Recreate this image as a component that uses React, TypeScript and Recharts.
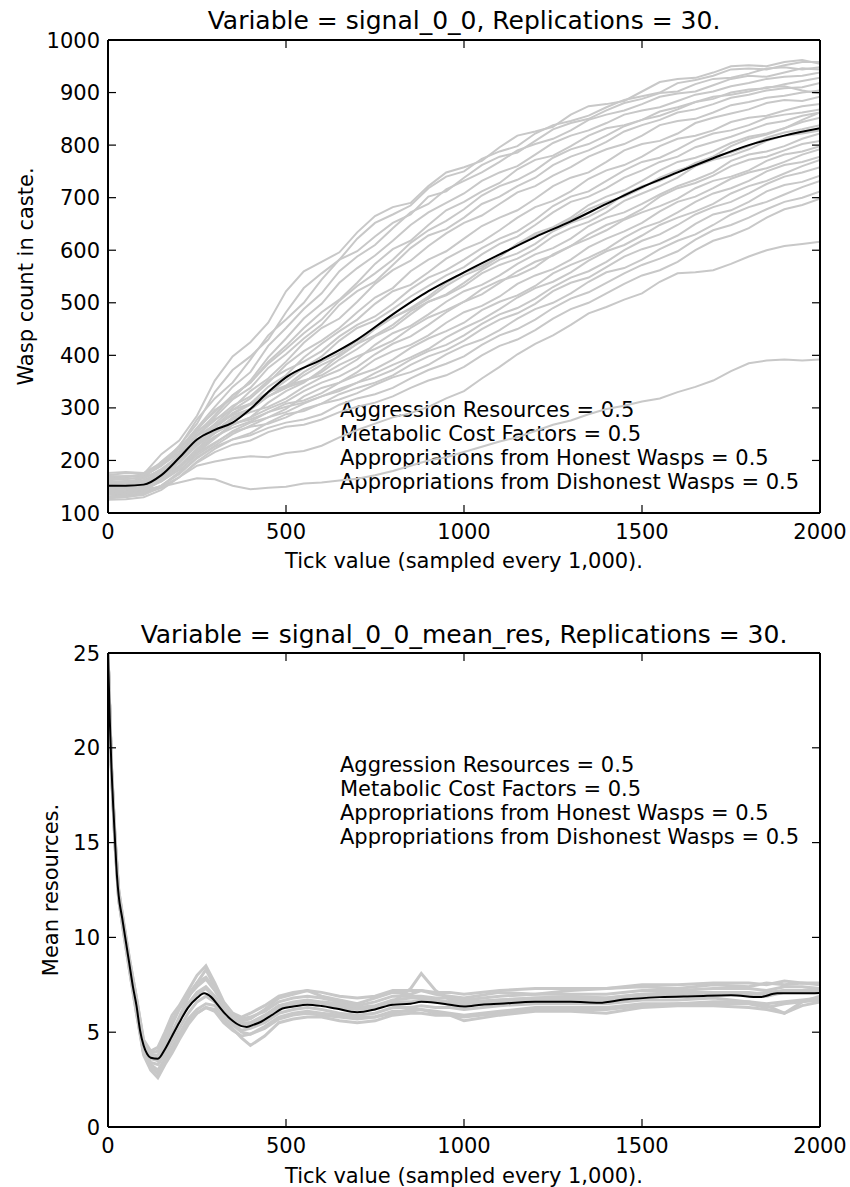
import React from 'react';
import { LineChart, Line, XAxis, YAxis } from 'recharts';

const FONT = '"DejaVu Sans", Verdana, sans-serif';
const GRAY = '#c8c8c8';

const topTitle = 'Variable = signal_0_0, Replications = 30.';
const bottomTitle = 'Variable = signal_0_0_mean_res, Replications = 30.';
const xLabel = 'Tick value (sampled every 1,000).';
const topYLabel = 'Wasp count in caste.';
const bottomYLabel = 'Mean resources.';
const notes = [
  'Aggression Resources = 0.5',
  'Metabolic Cost Factors = 0.5',
  'Appropriations from Honest Wasps = 0.5',
  'Appropriations from Dishonest Wasps = 0.5',
];

const xTicks = [0, 500, 1000, 1500, 2000];
const topYTicks = [100, 200, 300, 400, 500, 600, 700, 800, 900, 1000];
const bottomYTicks = [0, 5, 10, 15, 20, 25];

// ---- top panel: wasp count, 30 replications sampled every 50 ticks ----
const topRunX = [0, 50, 100, 150, 200, 250, 300, 350, 400, 450, 500, 550, 600, 650, 700, 750, 800, 850, 900, 950, 1000, 1050, 1100, 1150, 1200, 1250, 1300, 1350, 1400, 1450, 1500, 1550, 1600, 1650, 1700, 1750, 1800, 1850, 1900, 1950, 2000];
const topRuns: number[][] = [
  [170, 168, 174, 212, 238, 285, 352, 398, 425, 462, 522, 560, 578, 596, 634, 665, 682, 690, 722, 748, 758, 770, 796, 818, 826, 835, 858, 874, 878, 884, 902, 920, 926, 928, 938, 950, 952, 950, 958, 962, 955],
  [164, 170, 170, 190, 228, 270, 330, 372, 398, 430, 482, 528, 556, 582, 622, 652, 668, 685, 718, 740, 750, 774, 788, 798, 822, 838, 846, 856, 872, 886, 893, 900, 918, 924, 932, 944, 946, 944, 952, 958, 958],
  [160, 158, 166, 198, 226, 278, 318, 348, 392, 438, 468, 500, 544, 582, 598, 626, 652, 668, 702, 712, 738, 762, 778, 786, 808, 830, 842, 850, 866, 880, 888, 899, 902, 916, 926, 928, 936, 946, 948, 944, 948],
  [172, 176, 175, 192, 218, 262, 302, 340, 368, 418, 452, 488, 518, 560, 588, 610, 642, 672, 688, 716, 732, 748, 768, 790, 802, 812, 828, 848, 858, 866, 878, 892, 898, 902, 914, 926, 932, 930, 938, 946, 944],
  [158, 160, 162, 180, 212, 258, 296, 318, 352, 396, 432, 470, 498, 538, 566, 590, 618, 648, 672, 690, 708, 732, 748, 760, 782, 804, 818, 828, 842, 858, 866, 872, 884, 896, 902, 912, 918, 926, 930, 932, 938],
  [150, 152, 157, 182, 210, 252, 286, 324, 348, 388, 418, 452, 482, 506, 538, 574, 602, 618, 648, 676, 692, 712, 728, 754, 772, 780, 798, 818, 832, 838, 848, 864, 872, 882, 888, 900, 906, 908, 916, 922, 928],
  [166, 164, 168, 180, 204, 246, 282, 316, 338, 376, 402, 432, 458, 496, 522, 540, 572, 604, 628, 640, 662, 688, 702, 722, 738, 762, 778, 790, 806, 826, 838, 848, 862, 868, 878, 890, 896, 904, 908, 910, 918],
  [146, 148, 151, 170, 198, 238, 270, 300, 332, 356, 388, 424, 452, 470, 502, 536, 562, 580, 608, 632, 652, 666, 688, 710, 722, 742, 758, 778, 792, 802, 818, 838, 846, 850, 862, 876, 882, 890, 894, 900, 904],
  [155, 157, 160, 176, 206, 240, 264, 296, 318, 348, 382, 408, 428, 452, 482, 510, 528, 560, 582, 598, 622, 646, 662, 676, 698, 722, 738, 748, 768, 790, 802, 808, 822, 842, 852, 860, 868, 880, 886, 884, 892],
  [140, 142, 148, 168, 196, 232, 262, 290, 308, 340, 362, 396, 422, 446, 468, 498, 522, 534, 558, 584, 602, 616, 638, 662, 682, 694, 712, 736, 752, 762, 778, 798, 812, 818, 828, 844, 852, 856, 866, 874, 878],
  [162, 166, 165, 184, 208, 248, 276, 304, 322, 352, 372, 388, 408, 436, 458, 474, 498, 526, 548, 562, 582, 604, 622, 636, 658, 684, 702, 712, 732, 752, 768, 776, 792, 810, 822, 828, 838, 852, 858, 862, 868],
  [135, 136, 142, 162, 188, 222, 252, 278, 298, 328, 352, 376, 398, 428, 452, 466, 488, 512, 532, 552, 568, 592, 612, 626, 648, 672, 692, 702, 718, 738, 752, 768, 778, 796, 806, 816, 828, 840, 846, 856, 862],
  [150, 152, 156, 174, 200, 236, 262, 288, 306, 322, 342, 368, 388, 404, 428, 452, 472, 488, 508, 532, 552, 566, 588, 612, 632, 644, 662, 686, 702, 714, 732, 752, 768, 776, 788, 804, 816, 822, 832, 844, 852],
  [168, 170, 170, 190, 214, 246, 268, 286, 298, 322, 338, 350, 368, 392, 412, 436, 452, 478, 502, 516, 538, 562, 582, 594, 612, 636, 652, 664, 682, 706, 722, 732, 748, 766, 778, 786, 798, 814, 824, 830, 838],
  [128, 130, 136, 152, 178, 214, 242, 268, 282, 310, 332, 348, 372, 400, 422, 438, 458, 484, 502, 514, 532, 556, 572, 584, 602, 626, 642, 654, 672, 694, 708, 722, 738, 760, 772, 780, 792, 808, 818, 822, 828],
  [145, 146, 150, 168, 196, 228, 254, 278, 292, 302, 318, 340, 358, 372, 392, 420, 442, 456, 478, 502, 522, 534, 552, 574, 592, 604, 622, 646, 662, 672, 688, 706, 722, 734, 748, 770, 782, 788, 798, 812, 822],
  [138, 140, 144, 160, 186, 218, 244, 268, 282, 298, 312, 332, 348, 360, 378, 402, 422, 436, 458, 482, 502, 516, 538, 560, 578, 590, 608, 630, 648, 660, 678, 702, 718, 728, 742, 760, 772, 778, 790, 802, 808],
  [176, 178, 176, 196, 224, 256, 278, 296, 308, 330, 342, 352, 362, 382, 398, 412, 428, 452, 472, 486, 502, 526, 542, 552, 568, 592, 608, 622, 638, 658, 672, 684, 698, 718, 732, 740, 752, 770, 782, 788, 798],
  [132, 134, 138, 152, 176, 206, 228, 250, 266, 282, 298, 322, 338, 348, 368, 392, 408, 420, 438, 462, 482, 494, 512, 536, 552, 564, 582, 606, 622, 636, 652, 674, 692, 702, 718, 736, 748, 756, 768, 782, 792],
  [152, 150, 154, 168, 190, 222, 246, 262, 274, 292, 308, 314, 328, 348, 362, 374, 392, 414, 432, 446, 462, 486, 502, 514, 532, 556, 572, 586, 602, 624, 642, 654, 672, 692, 708, 718, 732, 750, 762, 768, 778],
  [142, 144, 147, 160, 182, 210, 232, 256, 272, 282, 292, 308, 322, 332, 348, 366, 382, 396, 412, 434, 452, 468, 488, 510, 528, 540, 558, 580, 598, 610, 628, 648, 662, 674, 688, 708, 722, 732, 746, 760, 772],
  [160, 161, 162, 176, 198, 228, 252, 270, 278, 292, 302, 310, 322, 336, 348, 358, 372, 392, 408, 420, 438, 460, 478, 490, 508, 530, 548, 560, 578, 600, 618, 630, 648, 668, 682, 692, 708, 726, 740, 748, 758],
  [125, 126, 130, 144, 168, 198, 222, 240, 252, 272, 288, 294, 308, 326, 338, 348, 362, 382, 398, 410, 428, 450, 468, 480, 498, 522, 538, 548, 568, 588, 602, 612, 628, 650, 668, 676, 692, 712, 724, 730, 742],
  [148, 147, 150, 164, 186, 214, 234, 254, 264, 270, 282, 298, 308, 316, 328, 344, 358, 368, 382, 402, 418, 430, 448, 470, 488, 500, 518, 540, 558, 566, 582, 602, 618, 630, 648, 668, 682, 692, 706, 720, 732],
  [136, 138, 140, 152, 174, 204, 226, 240, 248, 262, 272, 278, 288, 306, 318, 326, 338, 356, 372, 384, 398, 420, 438, 450, 468, 490, 508, 520, 538, 556, 572, 584, 598, 620, 638, 648, 662, 678, 692, 700, 712],
  [130, 132, 136, 148, 168, 196, 216, 230, 238, 254, 264, 268, 278, 292, 302, 310, 322, 338, 352, 362, 378, 400, 418, 430, 448, 470, 488, 500, 518, 536, 552, 562, 578, 600, 618, 628, 642, 662, 678, 686, 698],
  [155, 156, 158, 174, 196, 230, 256, 282, 296, 322, 338, 362, 382, 398, 422, 450, 472, 490, 512, 538, 558, 570, 588, 612, 628, 640, 658, 678, 692, 702, 718, 738, 752, 762, 778, 798, 812, 820, 832, 848, 862],
  [170, 170, 172, 194, 222, 262, 292, 324, 348, 384, 412, 442, 468, 504, 532, 556, 582, 614, 638, 656, 678, 704, 722, 734, 752, 776, 792, 802, 818, 836, 848, 856, 868, 882, 892, 896, 902, 910, 912, 904, 898],
  [130, 131, 134, 150, 168, 190, 198, 204, 208, 206, 214, 218, 228, 244, 258, 270, 282, 290, 302, 318, 332, 356, 378, 402, 422, 438, 458, 480, 492, 506, 518, 540, 556, 558, 562, 574, 588, 600, 608, 612, 616],
  [140, 141, 145, 150, 158, 166, 164, 152, 145, 148, 150, 156, 158, 162, 165, 172, 180, 190, 200, 206, 216, 226, 236, 244, 256, 268, 276, 288, 298, 304, 312, 318, 330, 340, 352, 370, 385, 390, 392, 390, 392],
];
const topMeanX = [0, 50, 100, 150, 200, 250, 300, 350, 400, 450, 500, 600, 700, 800, 900, 1000, 1100, 1200, 1300, 1400, 1500, 1600, 1700, 1800, 1900, 2000];
const topMean = [152, 152, 154, 172, 205, 240, 258, 272, 298, 330, 358, 392, 430, 478, 522, 558, 592, 625, 655, 688, 720, 748, 775, 800, 818, 832];

// ---- bottom panel: mean resources ----
const bottomRunX = [0, 10, 20, 30, 45, 60, 80, 100, 120, 140, 160, 180, 200, 225, 250, 275, 300, 325, 350, 375, 400, 440, 480, 520, 560, 600, 650, 700, 750, 800, 850, 880, 920, 960, 1000, 1100, 1200, 1300, 1400, 1500, 1600, 1700, 1800, 1850, 1900, 1950, 2000];
const bottomRuns: number[][] = [
  [25, 18.9, 15.2, 12.5, 10.7, 8.9, 6.8, 4.6, 4.0, 4.2, 5.0, 5.9, 6.4, 7.2, 8.0, 8.5, 7.6, 6.6, 6.0, 5.6, 5.7, 6.2, 6.8, 7.0, 7.2, 6.9, 6.7, 6.5, 6.8, 7.1, 7.0, 7.2, 7.0, 6.9, 6.8, 7.1, 7.0, 7.2, 7.3, 7.4, 7.3, 7.5, 7.4, 7.6, 7.5, 7.6, 7.5],
  [25, 18.6, 14.8, 12.0, 10.1, 8.3, 6.0, 3.8, 3.0, 2.6, 3.3, 3.9, 4.6, 5.4, 6.0, 6.3, 6.2, 5.7, 5.2, 4.7, 4.3, 4.8, 5.5, 5.7, 5.8, 5.8, 5.6, 5.5, 5.6, 5.9, 6.0, 6.0, 5.9, 5.9, 5.6, 5.9, 6.1, 6.1, 6.0, 6.3, 6.4, 6.4, 6.3, 6.2, 6.0, 6.4, 6.6],
  [25, 18.8, 15.0, 12.3, 10.4, 8.6, 6.5, 4.3, 3.7, 3.5, 4.0, 4.9, 5.6, 6.5, 7.1, 7.4, 6.9, 6.2, 5.7, 5.4, 5.4, 5.8, 6.4, 6.5, 6.6, 6.5, 6.4, 6.3, 6.3, 6.6, 7.3, 8.1, 7.2, 6.7, 6.6, 6.7, 6.8, 6.9, 6.8, 7.0, 7.1, 7.1, 7.0, 7.1, 7.2, 7.2, 7.3],
  [25, 18.7, 14.9, 12.1, 10.3, 8.5, 6.2, 4.0, 3.4, 3.3, 3.8, 4.5, 5.2, 6.0, 6.6, 6.9, 6.6, 6.0, 5.5, 5.1, 5.2, 5.5, 6.0, 6.2, 6.3, 6.2, 6.0, 5.9, 6.0, 6.3, 6.3, 6.4, 6.3, 6.3, 6.2, 6.4, 6.5, 6.5, 6.5, 6.7, 6.7, 6.8, 6.6, 6.4, 6.0, 6.6, 6.9],
  [25, 18.9, 15.1, 12.4, 10.6, 8.8, 6.7, 4.4, 3.8, 3.8, 4.4, 5.4, 6.2, 6.9, 7.4, 7.8, 7.2, 6.4, 5.9, 5.7, 5.8, 6.1, 6.6, 6.8, 6.9, 6.8, 6.6, 6.4, 6.6, 6.9, 6.9, 6.9, 6.8, 6.8, 6.7, 6.9, 7.0, 7.0, 7.0, 7.2, 7.2, 7.3, 7.3, 7.2, 7.4, 7.4, 7.3],
  [25, 18.7, 14.8, 12.0, 10.2, 8.4, 6.1, 3.9, 3.3, 3.0, 3.6, 4.2, 4.9, 5.7, 6.2, 6.5, 6.4, 5.9, 5.4, 5.0, 4.9, 5.2, 5.7, 5.9, 6.0, 5.9, 5.8, 5.7, 5.8, 6.1, 6.1, 6.2, 6.1, 6.0, 5.9, 6.1, 6.3, 6.3, 6.3, 6.5, 6.5, 6.6, 6.6, 6.5, 6.6, 6.7, 6.8],
  [25, 18.8, 15.1, 12.4, 10.5, 8.7, 6.5, 4.2, 3.6, 3.7, 4.4, 5.0, 5.8, 6.8, 7.6, 8.3, 7.4, 6.5, 5.9, 5.5, 5.5, 5.9, 6.4, 6.6, 6.7, 6.6, 6.5, 6.3, 6.4, 6.7, 6.8, 6.8, 6.7, 6.6, 6.5, 6.7, 6.8, 6.8, 6.8, 7.0, 7.0, 7.1, 7.1, 7.0, 7.2, 7.2, 7.2],
  [25, 18.6, 14.8, 12.0, 10.1, 8.3, 6.0, 3.9, 3.2, 2.8, 3.4, 4.0, 4.8, 5.6, 6.0, 6.3, 6.1, 5.5, 5.1, 4.8, 4.9, 5.3, 5.8, 6.0, 6.1, 6.0, 5.9, 5.8, 5.8, 6.0, 6.2, 6.2, 6.0, 5.9, 5.8, 6.0, 6.2, 6.2, 6.2, 6.4, 6.5, 6.5, 6.5, 6.3, 6.5, 6.6, 6.7],
  [25, 18.8, 15.0, 12.2, 10.4, 8.6, 6.4, 4.2, 3.6, 3.5, 4.1, 4.8, 5.6, 6.4, 7.0, 7.3, 6.8, 6.1, 5.7, 5.4, 5.5, 5.8, 6.3, 6.5, 6.6, 6.5, 6.3, 6.2, 6.3, 6.6, 6.6, 6.7, 6.6, 6.5, 6.4, 6.6, 6.7, 6.7, 6.7, 6.9, 6.9, 7.0, 7.0, 6.9, 7.1, 7.1, 7.1],
  [25, 18.9, 15.2, 12.5, 10.6, 8.9, 6.8, 4.5, 3.9, 4.0, 4.7, 5.6, 6.3, 7.0, 7.6, 7.9, 7.3, 6.5, 6.0, 5.8, 6.0, 6.4, 6.9, 7.1, 7.2, 7.1, 6.9, 6.8, 6.9, 7.2, 7.2, 7.2, 7.1, 7.1, 7.0, 7.2, 7.3, 7.3, 7.3, 7.5, 7.5, 7.6, 7.6, 7.5, 7.7, 7.6, 7.6],
];
const bottomMeanX = [0, 5, 10, 15, 20, 25, 30, 40, 50, 60, 70, 80, 90, 100, 110, 120, 140, 160, 180, 200, 225, 250, 270, 290, 310, 330, 350, 375, 390, 410, 430, 460, 490, 520, 560, 600, 640, 700, 750, 800, 850, 880, 920, 960, 1000, 1050, 1100, 1200, 1300, 1380, 1450, 1550, 1650, 1750, 1830, 1880, 1950, 2000];
const bottomMean = [25, 21.5, 18.8, 16.8, 15.0, 13.3, 12.2, 11.0, 9.8, 8.6, 7.4, 6.4, 5.1, 4.3, 3.85, 3.65, 3.6, 4.1, 4.8, 5.5, 6.3, 6.8, 7.05, 6.85, 6.4, 5.95, 5.6, 5.32, 5.28, 5.4, 5.55, 5.9, 6.25, 6.35, 6.45, 6.38, 6.25, 6.05, 6.2, 6.45, 6.5, 6.6, 6.55, 6.45, 6.35, 6.45, 6.5, 6.6, 6.6, 6.55, 6.72, 6.85, 6.9, 6.95, 6.85, 7.05, 7.05, 7.07];

const toPts = (xs: number[], ys: number[]) => xs.map((x, i) => ({ x, y: ys[i] }));

const axisStyle = { stroke: '#000', strokeWidth: 2 };
const TICK_LEN = 8;

const LeftTick = (p: any) => (
  <g>
    <line x1={p.x + 8} x2={p.x + 8 + TICK_LEN} y1={p.y} y2={p.y} stroke="#000" strokeWidth={1.2} />
    <text x={p.x} y={p.y} dy="0.36em" textAnchor="end" fontFamily={FONT} fontSize={21} fill="#000">
      {p.payload.value}
    </text>
  </g>
);
const RightTick = (p: any) => (
  <line x1={p.x} x2={p.x - TICK_LEN} y1={p.y} y2={p.y} stroke="#000" strokeWidth={1.2} />
);
const BottomTick = (p: any) => (
  <g>
    <line x1={p.x} x2={p.x} y1={p.y - 10} y2={p.y - 10 - TICK_LEN} stroke="#000" strokeWidth={1.2} />
    <text x={p.x} y={p.y + 15.5} textAnchor="middle" fontFamily={FONT} fontSize={21} fill="#000">
      {p.payload.value}
    </text>
  </g>
);
const TopTick = (p: any) => (
  <line x1={p.x} x2={p.x} y1={p.y} y2={p.y + TICK_LEN} stroke="#000" strokeWidth={1.2} />
);

type PanelProps = {
  height: number;
  margin: { top: number; right: number; bottom: number; left: number };
  yDomain: [number, number];
  yTicks: number[];
  runX: number[];
  runs: number[][];
  meanX: number[];
  mean: number[];
  runWidth: number;
  title: string;
  titleY: number;
  yLabel: string;
  yLabelX: number;
  yLabelY: number;
  xLabelY: number;
  noteY: number;
};

function Panel(props: PanelProps) {
  const { height, margin, yDomain, yTicks, runX, runs, meanX, mean, runWidth } = props;
  return (
    <LineChart width={850} height={height} margin={margin}>
      <XAxis
        xAxisId="b"
        type="number"
        dataKey="x"
        domain={[0, 2000]}
        ticks={xTicks}
        interval={0}
        allowDataOverflow
        orientation="bottom"
        height={30}
        tickSize={0}
        tickMargin={10}
        tickLine={false}
        tick={BottomTick}
        axisLine={axisStyle}
      />
      <XAxis
        xAxisId="t"
        type="number"
        dataKey="x"
        domain={[0, 2000]}
        ticks={xTicks}
        interval={0}
        allowDataOverflow
        orientation="top"
        height={1}
        tickSize={0}
        tickMargin={0}
        tickLine={false}
        tick={TopTick}
        axisLine={axisStyle}
      />
      <YAxis
        yAxisId="l"
        type="number"
        domain={yDomain}
        ticks={yTicks}
        interval={0}
        allowDataOverflow
        width={60}
        tickSize={0}
        tickMargin={8}
        tickLine={false}
        tick={LeftTick}
        axisLine={axisStyle}
      />
      <YAxis
        yAxisId="r"
        orientation="right"
        type="number"
        domain={yDomain}
        ticks={yTicks}
        interval={0}
        allowDataOverflow
        width={1}
        tickSize={0}
        tickMargin={0}
        tickLine={false}
        tick={RightTick}
        axisLine={axisStyle}
      />
      {runs.map((r, i) => (
        <Line
          key={'run' + i}
          xAxisId="b"
          yAxisId="l"
          data={toPts(runX, r)}
          dataKey="y"
          type="linear"
          stroke={GRAY}
          strokeWidth={runWidth}
          dot={false}
          activeDot={false}
          isAnimationActive={false}
        />
      ))}
      <Line
        xAxisId="b"
        yAxisId="l"
        data={toPts(meanX, mean)}
        dataKey="y"
        type="monotone"
        stroke="#000"
        strokeWidth={2}
        dot={false}
        activeDot={false}
        isAnimationActive={false}
      />
      <text x={464} y={props.titleY} textAnchor="middle" fontFamily={FONT} fontSize={25} fill="#000">
        {props.title}
      </text>
      <text
        x={props.yLabelX}
        y={props.yLabelY}
        textAnchor="middle"
        fontFamily={FONT}
        fontSize={21}
        fill="#000"
        transform={`rotate(-90 ${props.yLabelX} ${props.yLabelY})`}
      >
        {props.yLabel}
      </text>
      <text x={464} y={props.xLabelY} textAnchor="middle" fontFamily={FONT} fontSize={21} fill="#000">
        {xLabel}
      </text>
      {notes.map((n, i) => (
        <text key={n} x={340} y={props.noteY + i * 24} fontFamily={FONT} fontSize={21} fill="#000">
          {n}
        </text>
      ))}
    </LineChart>
  );
}

export default function App() {
  return (
    <div style={{ position: 'absolute', left: 0, top: 0, width: 850, height: 1187, background: '#fff', overflow: 'hidden' }}>
      <div style={{ position: 'absolute', left: 0, top: 0 }}>
        <Panel
          height={600}
          margin={{ top: 39, right: 29, bottom: 57, left: 48 }}
          yDomain={[100, 1000]}
          yTicks={topYTicks}
          runX={topRunX}
          runs={topRuns}
          meanX={topMeanX}
          mean={topMean}
          runWidth={2}
          title={topTitle}
          titleY={29}
          yLabel={topYLabel}
          yLabelX={33}
          yLabelY={276.5}
          xLabelY={568}
          noteY={416.5}
        />
      </div>
      <div style={{ position: 'absolute', left: 0, top: 600 }}>
        <Panel
          height={587}
          margin={{ top: 52, right: 29, bottom: 30, left: 48 }}
          yDomain={[0, 25]}
          yTicks={bottomYTicks}
          runX={bottomRunX}
          runs={bottomRuns}
          meanX={bottomMeanX}
          mean={bottomMean}
          runWidth={3}
          title={bottomTitle}
          titleY={43}
          yLabel={bottomYLabel}
          yLabelX={58}
          yLabelY={290}
          xLabelY={583}
          noteY={172}
        />
      </div>
    </div>
  );
}
